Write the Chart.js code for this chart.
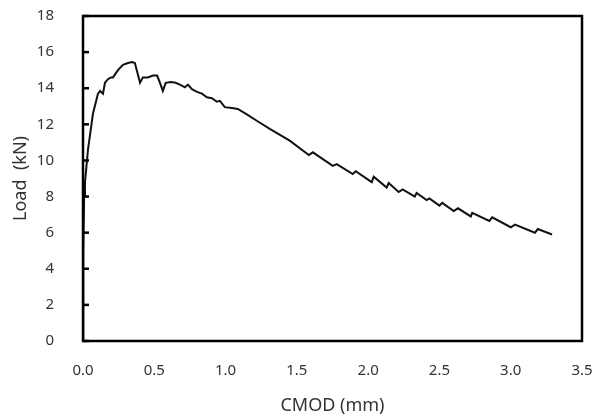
<!DOCTYPE html>
<html>
<head>
<meta charset="utf-8">
<script src="https://cdn.jsdelivr.net/npm/chart.js@4/dist/chart.umd.min.js"></script>
<style>
  html, body { margin: 0; padding: 0; background: #fff; }
  #wrap { width: 607px; height: 417px; }
</style>
</head>
<body>
<div id="wrap"><canvas id="myChart" width="607" height="417"></canvas></div>
<script>
// CMOD (mm) and load (kN)
var cmod = [0, 0.002, 0.008, 0.014, 0.035, 0.07, 0.105, 0.12, 0.14, 0.154, 0.175, 0.196, 0.21,
  0.245, 0.28, 0.315, 0.343, 0.364, 0.40, 0.42, 0.455, 0.49, 0.52, 0.54, 0.56, 0.58, 0.617,
  0.65, 0.68, 0.715, 0.736, 0.764, 0.80, 0.834, 0.869, 0.904, 0.939, 0.96, 0.995, 1.044,
  1.086, 1.149, 1.219, 1.31, 1.45, 1.584, 1.612, 1.752, 1.78, 1.892, 1.913, 2.025, 2.039,
  2.13, 2.144, 2.214, 2.242, 2.327, 2.34, 2.41, 2.43, 2.50, 2.52, 2.60, 2.63, 2.72, 2.73,
  2.85, 2.87, 3.0, 3.03, 3.17, 3.19, 3.29];
var load = [0, 5, 8, 8.8, 10.6, 12.6, 13.7, 13.85, 13.7, 14.3, 14.5, 14.6, 14.6,
  15.0, 15.3, 15.4, 15.45, 15.4, 14.3, 14.6, 14.6, 14.7, 14.7, 14.3, 13.85, 14.3, 14.35,
  14.3, 14.2, 14.05, 14.2, 13.95, 13.8, 13.7, 13.5, 13.45, 13.25, 13.3, 12.95, 12.9,
  12.85, 12.55, 12.2, 11.75, 11.1, 10.3, 10.45, 9.7, 9.8, 9.25, 9.4, 8.8, 9.1,
  8.5, 8.75, 8.25, 8.4, 8.0, 8.2, 7.8, 7.9, 7.5, 7.65, 7.2, 7.35, 6.9, 7.1,
  6.65, 6.85, 6.3, 6.45, 6.0, 6.2, 5.9];

var xTitle = "CMOD (mm)";
var yTitle = "Load  (kN)";

var points = [];
for (var i = 0; i < cmod.length; i++) {
  points.push({ x: cmod[i], y: load[i] });
}

// box around the plot and short ticks pointing inward on the y axis
var frame = {
  id: "frame",
  afterDraw: function (chart) {
    var c = chart.ctx;
    var a = chart.chartArea;
    var ys = chart.scales.y;
    c.save();
    c.strokeStyle = "#000";
    c.lineWidth = 2.5;
    ys.ticks.forEach(function (t, idx) {
      var py = ys.getPixelForTick(idx);
      c.beginPath();
      c.moveTo(a.left, py);
      c.lineTo(a.left + 6, py);
      c.stroke();
    });
    c.strokeRect(a.left, a.top, a.right - a.left, a.bottom - a.top);
    c.restore();
  }
};

var ctx = document.getElementById("myChart");
var myChart = new Chart(ctx, {
  type: "scatter",
  data: {
    datasets: [{
      data: points,
      showLine: true,
      borderColor: "#111",
      borderWidth: 2,
      pointRadius: 0,
      tension: 0
    }]
  },
  options: {
    responsive: false,
    animation: false,
    layout: { padding: { top: 16, right: 25, left: 0, bottom: 0 } },
    plugins: { legend: { display: false }, tooltip: { enabled: false } },
    scales: {
      x: {
        min: 0, max: 3.5,
        grid: { display: false },
        border: { display: false },
        ticks: {
          stepSize: 0.5,
          padding: 13,
          color: "#333",
          font: { family: "Noto Sans", size: 15 },
          callback: function (v) { return v.toFixed(1); }
        },
        title: {
          display: true, text: xTitle, color: "#333",
          font: { family: "Noto Sans", size: 18 },
          padding: { top: 0, bottom: 0 }
        },
        afterFit: function (s) { s.height = 76; s.paddingLeft = 0; s.paddingRight = 0; }
      },
      y: {
        min: 0, max: 18,
        grid: { display: false },
        border: { display: false },
        ticks: {
          stepSize: 2,
          padding: 21,
          color: "#333",
          font: { family: "Noto Sans", size: 15 }
        },
        title: {
          display: true, text: yTitle, color: "#333",
          font: { family: "Noto Sans", size: 18 },
          padding: { top: 10, bottom: 0 }
        },
        afterFit: function (s) { s.width = 83; s.paddingTop = 0; s.paddingBottom = 0; }
      }
    }
  },
  plugins: [frame]
});
</script>
</body>
</html>
